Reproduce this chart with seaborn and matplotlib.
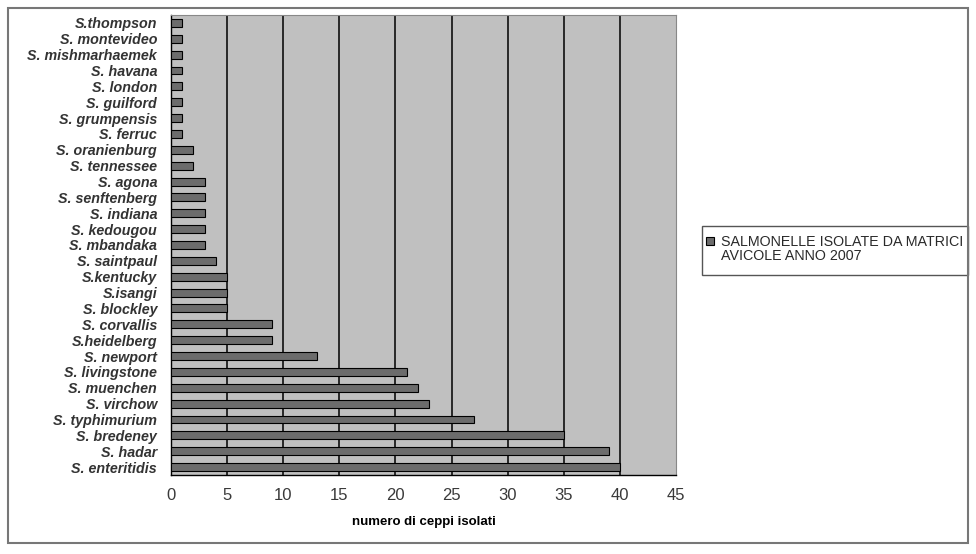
import matplotlib
matplotlib.use("Agg")
import matplotlib.pyplot as plt
import seaborn as sns
import pandas as pd
from matplotlib.patches import Rectangle, Patch
from matplotlib.legend_handler import HandlerPatch

categories = ["S.thompson", "S. montevideo", "S. mishmarhaemek", "S. havana", "S. london",
              "S. guilford", "S. grumpensis", "S. ferruc", "S. oranienburg", "S. tennessee",
              "S. agona", "S. senftenberg", "S. indiana", "S. kedougou", "S. mbandaka",
              "S. saintpaul", "S.kentucky", "S.isangi", "S. blockley", "S. corvallis",
              "S.heidelberg", "S. newport", "S. livingstone", "S. muenchen", "S. virchow",
              "S. typhimurium", "S. bredeney", "S. hadar", "S. enteritidis"]
values = [1, 1, 1, 1, 1, 1, 1, 1, 2, 2, 3, 3, 3, 3, 3, 4, 5, 5, 5, 9, 9, 13, 21, 22, 23, 27, 35, 39, 40]
xticks = [0, 5, 10, 15, 20, 25, 30, 35, 40, 45]
series_name = "SALMONELLE ISOLATE DA MATRICI\nAVICOLE ANNO 2007"
xlabel = "numero di ceppi isolati"

sns.set_style("white")
plt.rcParams['font.family'] = ['Liberation Sans', 'DejaVu Sans']

df = pd.DataFrame({"cat": categories, "val": values})

fig = plt.figure(figsize=(9.76, 5.54), dpi=100)
ax = fig.add_axes([171/976, 1-475/554, (676-171)/976, (475-15)/554])
ax.set_facecolor("#c0c0c0")

sns.barplot(data=df, x="val", y="cat", orient="h", color="#6c6c6c", edgecolor="black",
            linewidth=0.8, width=0.5, saturation=1, ax=ax, zorder=3)

ax.set_xlim(0, 45)
ax.set_ylim(len(categories) - 0.5, -0.5)
ax.set_xticks(xticks)
ax.set_xticklabels([str(t) for t in xticks], fontsize=12, color="#3a3a3a")
for t in xticks[1:-1]:
    ax.axvline(t, color="black", linewidth=1.1, zorder=2)
ax.tick_params(axis="x", length=4, width=1, color="black", direction="inout", pad=7)
ax.tick_params(axis="y", length=0, pad=10)
for lbl in ax.get_yticklabels():
    lbl.set_fontstyle("italic")
    lbl.set_fontsize(10.3)
    lbl.set_color("#333333")
    lbl.set_fontweight("bold")
ax.set_yticks([i + 0.5 for i in range(-1, len(categories))], minor=True)
ax.tick_params(axis="y", which="minor", length=4, width=0.8, color="#444444", direction="out")
ax.set_ylabel("")
ax.set_xlabel(xlabel, fontsize=9.5, fontweight="bold", color="black", labelpad=10)

for side in ["top", "right"]:
    ax.spines[side].set_color("#888888")
    ax.spines[side].set_linewidth(0.8)
ax.spines["left"].set_color("black")
ax.spines["bottom"].set_color("black")
ax.spines["left"].set_linewidth(1)
ax.spines["bottom"].set_linewidth(1)


def top_square(legend, orig_handle, xdescent, ydescent, width, height, fontsize):
    side = width
    return Rectangle((-xdescent, -ydescent + height - side + 1.5), side, side)


handle = Patch(facecolor="#6c6c6c", edgecolor="black", linewidth=0.8)
leg = fig.legend([handle], [series_name], loc="center left",
                 bbox_to_anchor=(703/976, 1-249/554), frameon=False,
                 fontsize=10.3, handlelength=0.55, handleheight=1.9, handletextpad=0.5,
                 borderpad=0.2, borderaxespad=0, labelspacing=0.2,
                 handler_map={Patch: HandlerPatch(patch_func=top_square)})
for txt in leg.get_texts():
    txt.set_color("#2a2a2a")
    txt.set_linespacing(1.0)

fig.patches.append(Rectangle((702/976, 1-275/554), (968-702)/976, (275-226)/554,
                             transform=fig.transFigure, fill=False,
                             edgecolor="#555555", linewidth=1.0))
fig.patches.append(Rectangle((8/976, 1-543/554), (968-8)/976, (543-8)/554,
                             transform=fig.transFigure, fill=False,
                             edgecolor="#777777", linewidth=1.5))

fig.savefig("out.png", dpi=100)
